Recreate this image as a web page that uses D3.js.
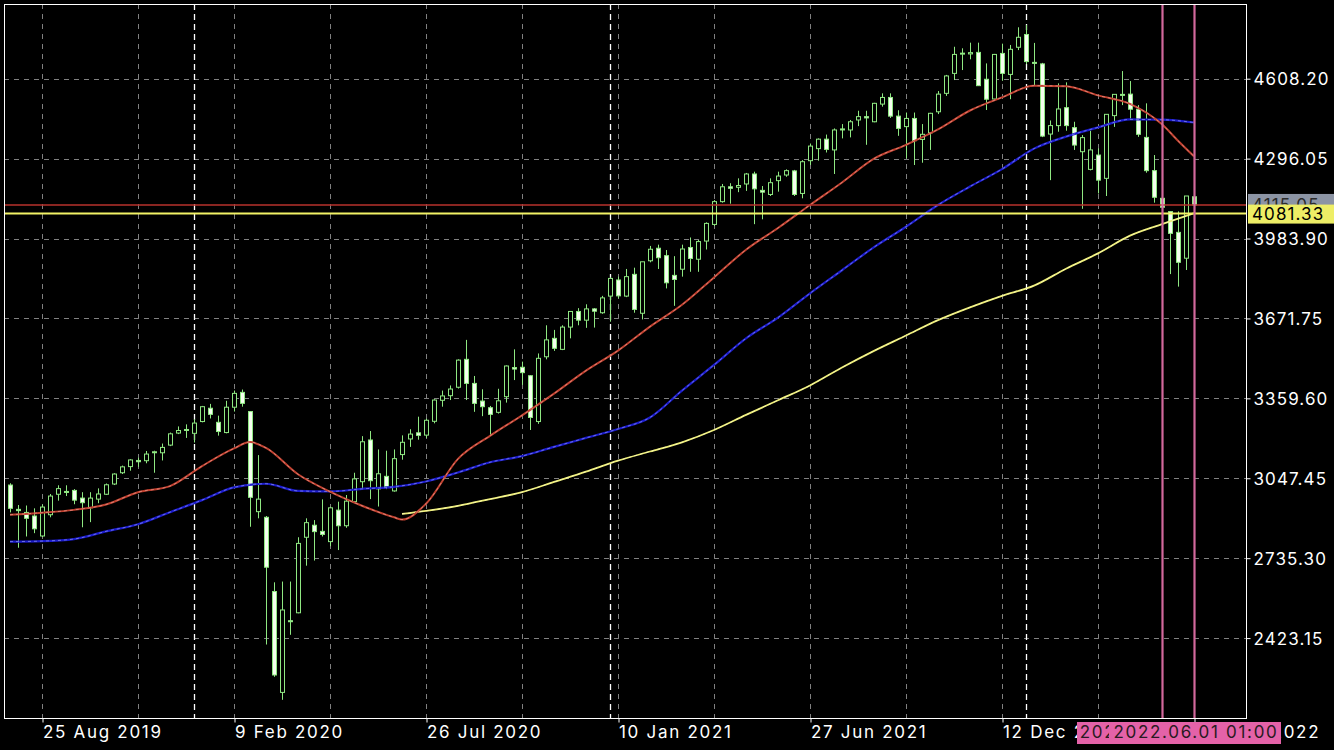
<!DOCTYPE html>
<html><head><meta charset="utf-8">
<script src="https://cdn.jsdelivr.net/npm/d3@7"></script>
<style>html,body{margin:0;padding:0;background:#000;overflow:hidden}svg{display:block}</style>
</head><body>
<svg id="chart" width="1334" height="750"></svg>
<script>
// ---------- DATA ----------
const firstWeek = "2019-07-28";   // Sunday open of first weekly bar
const lastWeek  = "2022-05-29";
const opens = [3021,2926,2914,2900,2822,2905,2985,2996,3000,2970,
 2932,2966,2985,3025,3069,3093,3117,3116,3148,3147,
 3177,3224,3238,3223,3269,3321,3266,3226,3325,3383,
 3308,2917,2895,2605,2211,2491,2522,2817,2864,2840,
 2800,2923,2862,2956,3034,3197,3006,3055,2998,3140,
 3201,3225,3216,3270,3352,3370,3403,3512,3418,3349,
 3323,3305,3366,3480,3481,3448,3269,3522,3594,3551,
 3638,3699,3665,3709,3694,3759,3822,3759,3844,3692,
 3897,3946,3917,3840,3864,3949,3903,3974,4039,4128,
 4186,4184,4197,4236,4172,4156,4210,4232,4248,4160,
 4288,4335,4372,4330,4412,4408,4447,4460,4440,4509,
 4535,4462,4421,4453,4371,4397,4479,4551,4629,4705,
 4705,4711,4606,4529,4707,4625,4731,4781,4672,4666,
 4392,4425,4495,4417,4323,4254,4310,4219,4464,4547,
 4548,4489,4379,4249,4141,4089,4008,3907,4147];
const highs = [3028,2943,2941,2930,2945,2986,3020,3020,3005,2993,
 2993,3008,3027,3067,3097,3122,3128,3154,3155,3183,
 3226,3250,3258,3278,3330,3338,3292,3350,3390,3394,
 3310,3138,2900,2641,2644,2644,2817,2891,2884,2965,
 2936,2956,2982,3069,3212,3232,3160,3155,3160,3215,
 3239,3288,3280,3356,3390,3410,3512,3588,3447,3395,
 3330,3397,3488,3551,3503,3450,3535,3645,3627,3645,
 3699,3712,3727,3712,3760,3832,3835,3865,3870,3893,
 3955,3960,3939,3915,3960,3988,3978,4047,4134,4197,
 4200,4219,4240,4245,4189,4219,4245,4254,4252,4290,
 4355,4375,4390,4414,4431,4447,4483,4483,4514,4551,
 4551,4485,4476,4476,4431,4475,4560,4623,4733,4727,
 4749,4749,4668,4705,4745,4740,4809,4818,4748,4670,
 4445,4590,4594,4440,4388,4405,4336,4469,4547,4638,
 4599,4505,4512,4310,4308,4089,4090,4150,4168];
const lows = [2914,2776,2820,2833,2818,2895,2960,2978,2946,2856,
 2876,2950,2982,3021,3064,3077,3092,3106,3069,3117,
 3173,3220,3205,3187,3266,3281,3214,3223,3308,3327,
 2858,2891,2398,2272,2182,2436,2520,2706,2726,2820,
 2782,2767,2854,2950,3008,2966,2937,3005,2995,3120,
 3170,3198,3205,3262,3327,3353,3398,3353,3307,3290,
 3216,3300,3343,3431,3412,3236,3260,3512,3545,3548,
 3594,3645,3635,3636,3690,3659,3750,3755,3694,3668,
 3891,3865,3789,3721,3835,3854,3854,3941,4033,4124,
 4120,4165,4170,4040,4059,4150,4167,4225,4150,4141,
 4271,4288,4320,4236,4375,4379,4423,4350,4438,4499,
 4455,4385,4297,4271,4280,4330,4470,4541,4603,4642,
 4684,4580,4486,4526,4600,4528,4720,4665,4582,4380,
 4212,4401,4405,4330,4100,4250,4160,4150,4420,4505,
 4450,4381,4241,4124,4062,3845,3796,3861,4104];
const closes = [2930,2921,2891,2850,2935,2978,3007,2992,2962,2952,
 2970,2986,3022,3064,3092,3119,3112,3142,3151,3168,
 3221,3234,3236,3263,3327,3297,3230,3325,3379,3340,
 2973,2966,2700,2279,2533,2488,2793,2874,2839,2828,
 2932,2862,2958,3045,3190,3038,3065,3015,3124,3188,
 3220,3215,3274,3353,3369,3396,3509,3418,3340,3327,
 3297,3350,3486,3474,3460,3285,3516,3588,3555,3638,
 3699,3665,3709,3700,3752,3828,3760,3835,3707,3893,
 3942,3909,3811,3824,3943,3906,3972,4043,4128,4186,
 4180,4191,4236,4178,4165,4202,4228,4249,4156,4284,
 4345,4372,4332,4408,4408,4440,4460,4455,4512,4535,
 4462,4414,4453,4366,4391,4473,4548,4619,4703,4708,
 4710,4581,4528,4703,4629,4723,4770,4675,4670,4384,
 4425,4490,4425,4349,4378,4330,4212,4469,4547,4545,
 4489,4391,4249,4145,4106,4004,3891,4150,4115.05];

// moving averages (bar index -> value)
const maRedBars  = [0,4,8,12,16,20,24,28,30,32,36,40,44,48,49,52,56,60,64,68,72,76,80,84,88,92,96,100,104,108,112,116,120,124,128,132,136,140,144,146,148];
const maRed      = [2905,2913,2924,2945,2993,3017,3095,3164,3189,3166,3063,2995,2940,2895,2886,2948,3123,3213,3293,3378,3468,3546,3640,3725,3832,3940,4025,4115,4203,4296,4350,4410,4484,4535,4581,4579,4543,4510,4430,4366,4305];
const maBlueBars = [0,4,8,12,16,20,24,28,32,36,40,44,48,52,56,60,64,68,72,76,80,84,88,92,96,100,104,108,112,116,120,124,128,132,136,140,144,148];
const maBlue     = [2800,2802,2810,2840,2868,2915,2962,3012,3026,2998,2996,3006,3014,3035,3070,3110,3134,3170,3205,3240,3285,3390,3490,3594,3675,3770,3860,3950,4030,4115,4187,4255,4335,4382,4418,4449,4448,4437];
const maYellowBars = [49,52,56,60,64,68,72,76,80,84,88,92,96,100,104,108,112,116,120,124,128,132,136,140,144,148];
const maYellow     = [2908,2920,2940,2966,2993,3033,3073,3116,3152,3188,3236,3295,3352,3410,3480,3545,3605,3665,3715,3760,3800,3866,3926,3995,4040,4083];

const priceTicks = [2423.15, 2735.30, 3047.45, 3359.60, 3671.75, 3983.90, 4296.05, 4608.20];
const timeTicks  = ["2019-08-25","2020-02-09","2020-07-26","2021-01-10","2021-06-27","2021-12-12","2022-05-29"];
const bidPrice = 4115.05;
const linePrice = 4081.33;
const vLineTimes = ["2022-05-01","2022-05-29"];
const vLineLabels = ["2022.05.02 01:00","2022.06.01 01:00"];

// ---------- LAYOUT ----------
const W = 1334, H = 750;
const L = 4, T = 4, R = 1246, B = 718;
const WEEK = 7*24*3600*1000;
const FONT = "Inter, 'Noto Sans', sans-serif";
const parse = d3.utcParse("%Y-%m-%d");
const t0 = parse(firstWeek);
const weeks = d3.utcWeek.range(t0, new Date(+parse(lastWeek)+1));
const bars = weeks.map((d,i)=>({d, o:opens[i], h:highs[i], l:lows[i], c:closes[i]}));

const x = d3.scaleUtc().domain([new Date(+t0 - 0.75*WEEK), new Date(+t0 + 154.5*WEEK)]).range([L, R]);
const y = d3.scaleLinear().domain([2111.0, 4900.0]).range([B, T]);
const xi = i => x(new Date(+t0 + i*WEEK));

const svg = d3.select("#chart");
svg.append("rect").attr("width",W).attr("height",H).attr("fill","#000");

const plot = svg.append("g");
const clip = svg.append("defs").append("clipPath").attr("id","pc");
clip.append("rect").attr("x",L).attr("y",T).attr("width",R-L).attr("height",B-T);
plot.attr("clip-path","url(#pc)");

// horizontal grid
plot.selectAll("line.hg").data(priceTicks).join("line")
  .attr("x1",L).attr("x2",R)
  .attr("y1",d=>Math.round(y(d))+0.5).attr("y2",d=>Math.round(y(d))+0.5)
  .attr("stroke","#808080").attr("stroke-width",1).attr("stroke-dasharray","5,5");

// vertical grid every 12 weeks
const gridWeeks = weeks.filter((d,i)=> (i-4)%12===0 && i>=4);
plot.selectAll("line.vg").data(gridWeeks).join("line")
  .attr("x1",d=>Math.round(x(d))+0.5).attr("x2",d=>Math.round(x(d))+0.5)
  .attr("y1",T).attr("y2",B)
  .attr("stroke","#808080").attr("stroke-width",1).attr("stroke-dasharray","5,5");

// year separators
const yearStarts = weeks.filter((d,i)=> i>0 && d.getUTCFullYear()!==weeks[i-1].getUTCFullYear());
plot.selectAll("line.ys").data(yearStarts).join("line")
  .attr("x1",d=>Math.round(x(d))+0.5).attr("x2",d=>Math.round(x(d))+0.5)
  .attr("y1",T).attr("y2",B)
  .attr("stroke","#ffffff").attr("stroke-width",1.3).attr("stroke-dasharray","6,4");

// candles
const green = "#8fe882";
const cg = plot.append("g");
cg.selectAll("line.w").data(bars).join("line")
  .attr("x1",d=>Math.round(x(d.d))+0.5).attr("x2",d=>Math.round(x(d.d))+0.5)
  .attr("y1",d=>y(d.h)).attr("y2",d=>y(d.l))
  .attr("stroke",green).attr("stroke-width",1);
cg.selectAll("rect.b").data(bars).join("rect")
  .attr("x",d=>Math.round(x(d.d))-1.5)
  .attr("width",4)
  .attr("y",d=>y(Math.max(d.o,d.c)))
  .attr("height",d=>Math.max(1, Math.abs(y(d.o)-y(d.c))))
  .attr("fill",d=> d.c>=d.o ? "#000" : "#f6fff0")
  .attr("stroke",green).attr("stroke-width",1);

// moving averages
const line = d3.line().x(d=>xi(d[0])).y(d=>y(d[1])).curve(d3.curveMonotoneX);
function drawMA(idx, vals, outer, inner, w){
  const pts = idx.map((b,k)=>[b, vals[k]]);
  plot.append("path").attr("d",line(pts)).attr("fill","none").attr("stroke",outer).attr("stroke-width",w);
  plot.append("path").attr("d",line(pts)).attr("fill","none").attr("stroke",inner).attr("stroke-width",0.7).attr("stroke-dasharray","3,3").attr("opacity",0.8);
}
drawMA(maYellowBars, maYellow, "#eeee78", "#ffffd0", 1.8);
drawMA(maBlueBars, maBlue, "#1c1ccc", "#a8b0ff", 2.2);
drawMA(maRedBars, maRed, "#c0402f", "#f4b4a8", 2);

// horizontal price lines
plot.append("line").attr("x1",L).attr("x2",R).attr("y1",y(bidPrice)).attr("y2",y(bidPrice))
  .attr("stroke","#b8322c").attr("stroke-width",1.5);
plot.append("line").attr("x1",L).attr("x2",R).attr("y1",y(linePrice)).attr("y2",y(linePrice))
  .attr("stroke","#f2f266").attr("stroke-width",2);

// vertical pink lines
const vTimes = vLineTimes.map(parse);
plot.selectAll("line.vl").data(vTimes).join("line")
  .attr("x1",d=>Math.round(x(d))+0.5).attr("x2",d=>Math.round(x(d))+0.5)
  .attr("y1",T).attr("y2",B)
  .attr("stroke","#d2689c").attr("stroke-width",2.2);

// frame
svg.append("rect").attr("x",L+0.5).attr("y",T+0.5).attr("width",R-L).attr("height",B-T)
  .attr("fill","none").attr("stroke","#fff").attr("stroke-width",1);

// right axis
const yAxis = d3.axisRight(y).tickValues(priceTicks).tickFormat(d3.format(".2f")).tickSize(4).tickPadding(3);
const ya = svg.append("g").attr("transform",`translate(${R+0.5},0)`).call(yAxis);
ya.select(".domain").remove();
ya.selectAll(".tick line").attr("stroke","#fff");
ya.selectAll(".tick text").attr("fill","#fff").attr("font-family",FONT)
  .attr("font-size",17).attr("letter-spacing","1.1px").attr("dy","0.36em");

// bottom axis
const xAxis = d3.axisBottom(x).tickValues(timeTicks.map(parse)).tickFormat(d3.utcFormat("%-d %b %Y")).tickSize(4).tickPadding(4);
const xa = svg.append("g").attr("transform",`translate(0.5,${B+0.5})`).call(xAxis);
xa.select(".domain").remove();
xa.selectAll(".tick line").attr("stroke","#fff");
xa.selectAll(".tick text").attr("fill","#fff").attr("font-family",FONT)
  .attr("font-size",17).attr("letter-spacing","1.7px").attr("text-anchor","start").attr("x",0).attr("dy","0.68em");

// price labels on right axis
const lg = svg.append("g");
lg.append("rect").attr("x",R+2).attr("y",y(bidPrice)-11).attr("width",W-R-2).attr("height",16).attr("fill","#8c94a4");
lg.append("text").attr("x",R+6).attr("y",y(bidPrice)+6).text(d3.format(".2f")(bidPrice))
  .attr("fill","#2a2a2a").attr("font-family",FONT).attr("font-size",17).attr("letter-spacing","1.1px");
lg.append("rect").attr("x",R+2).attr("y",y(linePrice)-9).attr("width",W-R-2).attr("height",19).attr("fill","#eeee66");
lg.append("text").attr("x",R+6).attr("y",y(linePrice)+6.5).text(d3.format(".2f")(linePrice))
  .attr("fill","#000").attr("font-family",FONT).attr("font-size",17).attr("letter-spacing","1.1px");

// time labels of vertical lines
vTimes.forEach((d,k)=>{
  const cx = x(d);
  const w = 172;
  svg.append("rect").attr("x",cx-w/2+1).attr("y",B+4).attr("width",w).attr("height",22).attr("fill","#e462a8");
  svg.append("text").attr("x",cx+2).attr("y",B+20).attr("text-anchor","middle").text(vLineLabels[k])
    .attr("fill","#2a1a22").attr("font-family",FONT).attr("font-size",17).attr("letter-spacing","1.7px");
});
</script>
</body></html>
